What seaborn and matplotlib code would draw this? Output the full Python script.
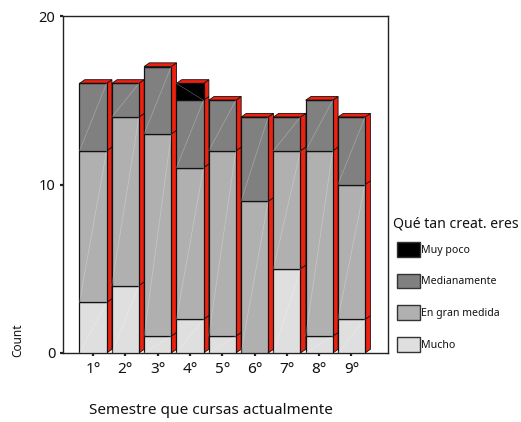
import matplotlib
matplotlib.use("Agg")
import matplotlib.pyplot as plt
from matplotlib.patches import Patch, Polygon
import pandas as pd
import seaborn as sns

semestres = ["1°", "2°", "3°", "4°", "5°", "6°", "7°", "8°", "9°"]
mucho = [3, 4, 1, 2, 1, 0, 5, 1, 2]
en_gran_medida = [9, 10, 12, 9, 11, 9, 7, 11, 8]
medianamente = [4, 2, 4, 4, 3, 5, 2, 3, 4]
muy_poco = [0, 0, 0, 1, 0, 0, 0, 0, 0]

layers = ["Mucho", "En gran medida", "Medianamente", "Muy poco"]
colors = ["#dfdfdf", "#b0b0b0", "#808080", "#000000"]

sns.set_style("white")
plt.rcParams["font.family"] = ["Noto Sans", "DejaVu Sans"]

df = pd.DataFrame({
    "semestre": semestres,
    "Mucho": mucho,
    "En gran medida": en_gran_medida,
    "Medianamente": medianamente,
    "Muy poco": muy_poco,
})

fig = plt.figure(figsize=(5.21, 4.22), dpi=100)
ax = fig.add_axes([63 / 521, 1 - 353 / 422, 325 / 521, 337 / 422])

# depth of the fake 3d, in data units
dx = 0.165
dy = 0.22
red = "#f02010"
edge = "#111111"
bar_width = 0.84

bottom = [0] * len(semestres)
for layer, color in zip(layers, colors):
    n_before = len(ax.patches)
    sns.barplot(data=df, x="semestre", y=layer, bottom=bottom, color=color, saturation=1,
                width=bar_width, edgecolor=edge, linewidth=0.9, ax=ax, zorder=3)
    for bar in ax.patches[n_before:]:
        x0, y0 = bar.get_x(), bar.get_y()
        x1, y1 = x0 + bar.get_width(), y0 + bar.get_height()
        if y1 <= y0:
            continue
        # faint diagonal on each face
        if color == "#000000":
            ax.plot([x0, x1], [y1, y0], color="#555555", lw=0.5, zorder=4)
        else:
            ax.plot([x0, x1], [y0, y1], color="#ffffff", lw=0.5, alpha=0.3, zorder=4)
        # red side face
        ax.add_patch(Polygon([(x1, y0), (x1 + dx, y0 + dy), (x1 + dx, y1 + dy), (x1, y1)],
                             facecolor=red, edgecolor=edge, lw=0.6, zorder=2))
    bottom = [b + v for b, v in zip(bottom, df[layer])]

# red top face of each stack
for i, total in enumerate(bottom):
    x0 = i - bar_width / 2
    x1 = i + bar_width / 2
    ax.add_patch(Polygon([(x0, total), (x0 + dx, total + dy), (x1 + dx, total + dy), (x1, total)],
                         facecolor=red, edgecolor=edge, lw=0.6, zorder=2))

ax.set_xlim(-0.93, 9.13)
ax.set_ylim(0, 20)
ax.set_yticks([0, 10, 20])
ax.tick_params(axis="both", which="major", left=True, bottom=True, length=2.5, width=1.6,
               color="#222222", labelsize=10.5, labelcolor="#111111", pad=3)
ax.tick_params(axis="x", pad=4, labelsize=11)
for s in ax.spines.values():
    s.set_visible(True)
    s.set_color("#222222")
    s.set_linewidth(1.0)

ax.set_xlabel("Semestre que cursas actualmente", fontsize=11, color="#111111", labelpad=0)
ax.xaxis.set_label_coords(148 / 325, -50 / 337)
ax.set_ylabel("Count", fontsize=8.5, color="#111111")
ax.yaxis.set_label_coords(-39 / 325, 13 / 337)

fig.text(393 / 521, 1 - 224 / 422, "Qué tan creat. eres", fontsize=10.1, color="#111111",
         ha="left", va="center")
handles = [Patch(facecolor=c, edgecolor="#333333", lw=1.0) for c in colors[::-1]]
fig.legend(handles, layers[::-1], loc="upper left", bbox_to_anchor=(397 / 521, 1 - 242 / 422),
           frameon=False, fontsize=7.6, labelcolor="#111111", handlelength=2.2, handleheight=1.77,
           labelspacing=1.6, handletextpad=0.1, borderpad=0, borderaxespad=0)

fig.savefig("out.png", dpi=100)
